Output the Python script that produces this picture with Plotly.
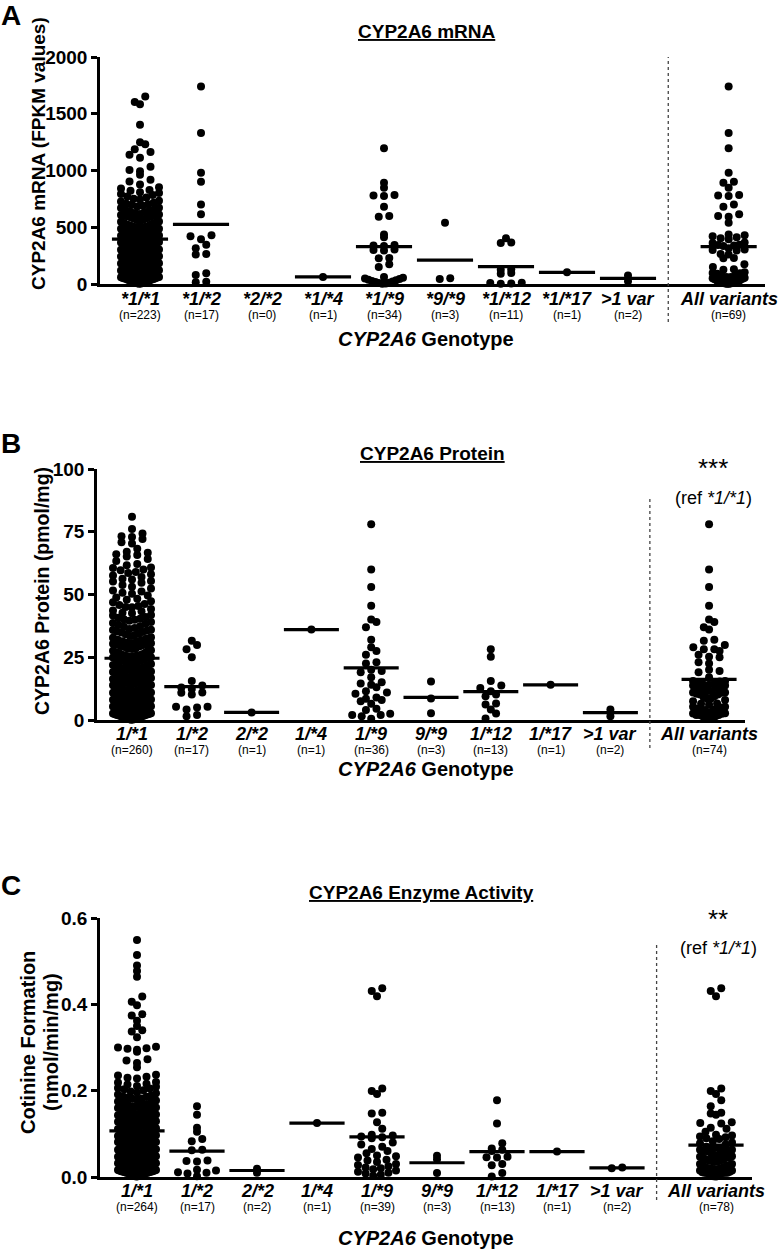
import plotly.graph_objects as go

W, H = 780, 1250
FONT = "Liberation Sans, Arial, sans-serif"

# ---------------- DATA ----------------
cats_A = ["*1/*1", "*1/*2", "*2/*2", "*1/*4", "*1/*9", "*9/*9", "*1/*12", "*1/*17", "&gt;1 var", "All variants"]
cats_BC = ["1/*1", "1/*2", "2/*2", "1/*4", "1/*9", "9/*9", "1/*12", "1/*17", "&gt;1 var", "All variants"]
n_A = [223, 17, 0, 1, 34, 3, 11, 1, 2, 69]
n_B = [260, 17, 1, 1, 36, 3, 13, 1, 2, 74]
n_C = [264, 17, 2, 1, 39, 3, 13, 1, 2, 78]

# Panel A: CYP2A6 mRNA (FPKM)
A11 = [1652, 1604, 1583, 1402, 1248, 1232, 1187, 1163, 1138, 1112, 1032, 1004, 993, 962, 918, 903, 877, 852, 841, 828, 822, 808, 801,
       792, 784, 771, 763, 752, 744, 733, 727, 716, 706, 702, 698,
       689, 683, 672, 669, 658, 653, 647, 637, 634, 626, 617, 613, 608, 604, 602, 600,
       596, 591, 588, 579, 577, 566, 563, 558, 551, 549, 541, 538, 533, 524, 522, 517, 509, 507, 503, 500,
       498, 494, 487, 486, 478, 476, 469, 466, 461, 457, 455, 448, 447, 440, 436, 433, 427, 425, 419, 414, 412, 406, 404, 401,
       399, 393, 392, 386, 383, 381, 376, 371, 370, 366, 361, 358, 356, 351, 347, 346, 340, 338, 333, 331, 326, 322, 321, 315, 312, 309, 304, 301,
       298, 296, 291, 288, 287, 282, 279, 277, 272, 269, 268, 263, 260, 257, 256, 251, 249, 244, 243, 238, 235, 233, 229, 225, 224, 219, 216, 214, 209, 207, 203, 201,
       199, 196, 191, 189, 187, 182, 181, 176, 173, 172, 167, 164, 163, 158, 155, 154, 149, 146, 145, 140, 137, 136, 131, 128, 126, 122, 119, 118, 113, 110, 108, 104, 102, 100,
       97, 96, 91, 88, 86, 83, 79, 78, 73, 71, 68, 66, 61, 59, 57, 53, 51, 48, 44, 43, 39, 36, 34, 30, 27, 25, 22, 18, 16, 12, 9, 7, 4, 2]
A12 = [1740, 1330, 980, 900, 700, 615, 430, 420, 395, 345, 315, 265, 260, 95, 80, 20, 15]
A22 = []
A14 = [62]
A19 = [1195, 893, 848, 784, 780, 775, 681, 600, 593, 437, 411, 344, 340, 335, 305, 300, 295, 230, 226, 173, 150,
       62, 55, 48, 44, 38, 33, 27, 22, 17, 12, 8, 5, 2]
A99 = [540, 50, 45]
A112 = [402, 365, 361, 130, 125, 97, 90, 10, 8, 5, 3]
A117 = [103]
Amulti = [75, 25]
means_A = [396, 525, None, 62, 330, 211, 153, 103, 50, 330]

# Panel B: CYP2A6 Protein (pmol/mg)
B11 = [81.0, 76.1,
       74.3, 73.2, 72.9, 72.1, 70.8, 70.3,
       68.2, 67.0, 66.6, 66.0, 65.7, 65.1,
       64.1, 63.3, 62.2, 61.7, 60.8, 60.6, 60.0,
       59.7, 59.0, 58.6, 58.1, 57.6, 57.0, 56.3, 56.0, 55.4, 55.2,
       54.7, 53.8, 53.1, 52.4, 51.6, 51.2, 50.7, 50.3,
       49.6, 48.8, 48.3, 47.9, 47.3, 46.9, 46.2, 45.8, 45.4, 45.0,
       44.9, 44.2, 43.6, 43.3, 42.7, 42.5, 41.8, 41.6, 41.0, 40.7, 40.3, 40.1,
       39.9, 39.5, 39.0, 38.6, 38.3, 37.9, 37.4, 37.2, 36.7, 36.3, 36.0, 35.9, 35.6, 35.3, 35.1,
       34.9, 34.4, 34.2, 33.7, 33.5, 33.0, 32.8, 32.4, 32.0, 31.9, 31.4, 31.3, 30.8, 30.7, 30.6, 30.4, 30.2, 30.1,
       29.9, 29.5, 29.4, 29.1, 28.6, 28.4, 28.3, 27.8, 27.6, 27.5, 27.0, 26.8, 26.7, 26.2, 26.0, 25.8, 25.8, 25.6, 25.3, 25.3, 25.1, 25.0,
       24.9, 24.7, 24.3, 24.2, 23.8, 23.7, 23.5, 23.1, 23.0, 22.6, 22.4, 22.3, 21.9, 21.7, 21.5, 21.3, 21.3, 20.9, 20.7, 20.6, 20.4, 20.3, 20.1, 20.0,
       19.9, 19.7, 19.3, 19.1, 19.1, 18.9, 18.5, 18.3, 18.2, 17.9, 17.7, 17.5, 17.3, 17.1, 16.9, 16.9, 16.7, 16.3, 16.1, 16.0, 15.9, 15.7, 15.5, 15.2, 15.2, 15.0,
       14.9, 14.8, 14.5, 14.3, 14.1, 13.9, 13.8, 13.6, 13.2, 13.1, 12.9, 12.7, 12.6, 12.3, 12.1, 11.9, 11.8, 11.5, 11.4, 11.2, 11.0, 10.9, 10.7, 10.5, 10.4, 10.3, 10.1, 10.0,
       9.9, 9.8, 9.6, 9.4, 9.2, 9.1, 8.9, 8.8, 8.5, 8.4, 8.2, 8.1, 7.9, 7.7, 7.6, 7.4, 7.2, 7.1, 6.9, 6.7, 6.6, 6.3, 6.2, 6.0, 5.9, 5.7, 5.5, 5.4, 5.2, 5.0,
       4.9, 4.8, 4.7, 4.5, 4.4, 4.2, 4.1, 4.0, 3.8, 3.7, 3.5, 3.4, 3.3, 3.1, 3.0, 2.9, 2.7, 2.6, 2.4, 2.3, 2.2, 2.0, 1.9, 1.8, 1.6, 1.5, 1.3, 1.2, 1.1, 0.9, 0.8, 0.6, 0.5, 0.4, 0.2, 0.1]
B12 = [31.6, 29.9, 28.2, 25.0, 15.5, 13.7, 12.9, 12.4, 11.0, 10.9, 10.2, 5.3, 5.3, 5.0, 4.2, 2.0, 1.5]
B22 = [3.0]
B14 = [36.1]
B19 = [78, 60, 53, 45.5, 40, 39, 37, 32, 29, 27.5, 26, 23, 22.5, 20, 19.5, 19, 17, 15, 14.5, 14,
       13, 11.5, 11, 10.5, 9, 8.5, 8, 7.5, 6.5, 4.5, 4, 2.5, 2, 2, 1.5, 0.5]
B99 = [15.3, 8.6, 2.7]
B112 = [28.2, 25.2, 15.5, 13.7, 12.7, 11.5, 10.2, 9.5, 6.6, 6.2, 4.2, 2.6, 0.6]
B117 = [14.0]
Bmulti = [4.2, 1.5]
means_B = [24.6, 13.3, 3.0, 36.0, 20.8, 9.0, 11.3, 14.0, 2.9, 16.2]

# Panel C: Cotinine formation (nmol/min/mg)
C11 = [0.549, 0.514, 0.490, 0.477, 0.464, 0.418, 0.406, 0.398, 0.377, 0.374, 0.362, 0.350, 0.340, 0.337, 0.324,
       0.302, 0.300, 0.298, 0.297, 0.295, 0.290, 0.273, 0.270, 0.264, 0.254, 0.237, 0.235, 0.232, 0.230, 0.228, 0.220,
       0.219, 0.216, 0.214, 0.211, 0.209, 0.206, 0.205, 0.203, 0.201,
       0.198, 0.196, 0.194, 0.191, 0.189, 0.187, 0.186, 0.184, 0.182, 0.181,
       0.179, 0.177, 0.175, 0.174, 0.171, 0.169, 0.168, 0.166, 0.164, 0.163, 0.161, 0.160,
       0.159, 0.157, 0.156, 0.154, 0.152, 0.151, 0.149, 0.148, 0.146, 0.145, 0.143, 0.142, 0.141, 0.140,
       0.139, 0.138, 0.136, 0.135, 0.134, 0.132, 0.131, 0.129, 0.128, 0.127, 0.125, 0.124, 0.123, 0.122, 0.121, 0.120,
       0.119, 0.118, 0.116, 0.116, 0.114, 0.113, 0.111, 0.110, 0.109, 0.108, 0.106, 0.105, 0.104, 0.103, 0.102, 0.101, 0.101, 0.100,
       0.099, 0.098, 0.097, 0.095, 0.095, 0.094, 0.092, 0.092, 0.091, 0.090, 0.089, 0.088, 0.087, 0.086, 0.085, 0.084, 0.084, 0.083, 0.082, 0.081, 0.081, 0.080,
       0.079, 0.079, 0.078, 0.077, 0.076, 0.075, 0.074, 0.074, 0.073, 0.072, 0.071, 0.070, 0.070, 0.069, 0.068, 0.067, 0.066, 0.066, 0.065, 0.064,
       0.063, 0.063, 0.062, 0.062, 0.061, 0.061, 0.060, 0.060,
       0.059, 0.059, 0.058, 0.058, 0.057, 0.056, 0.056, 0.055, 0.055, 0.054, 0.053, 0.053, 0.052, 0.052, 0.051, 0.050, 0.050,
       0.049, 0.049, 0.048, 0.047, 0.047, 0.046, 0.046, 0.045, 0.045, 0.044, 0.043, 0.043, 0.042, 0.042, 0.041, 0.041, 0.040,
       0.039, 0.039, 0.038, 0.038, 0.037, 0.037, 0.036, 0.036, 0.035, 0.035, 0.034, 0.033, 0.033, 0.032, 0.032, 0.031, 0.031, 0.030,
       0.030, 0.029, 0.029, 0.028, 0.028, 0.027, 0.027, 0.026, 0.025, 0.025, 0.024, 0.024, 0.023, 0.023, 0.022, 0.022, 0.021, 0.020,
       0.019, 0.019, 0.018, 0.018, 0.017, 0.017, 0.016, 0.016, 0.015, 0.015, 0.014, 0.014, 0.013, 0.013, 0.012, 0.012, 0.011,
       0.011, 0.010, 0.010, 0.009, 0.009, 0.008, 0.008, 0.007, 0.007, 0.006, 0.005, 0.005, 0.004, 0.003, 0.003, 0.002, 0.001]
C12 = [0.164, 0.144, 0.114, 0.105, 0.088, 0.083, 0.063, 0.062, 0.038, 0.037, 0.036, 0.017, 0.015, 0.011, 0.010, 0.008, 0.002]
C22 = [0.019, 0.010]
C14 = [0.125]
C19 = [0.437, 0.431, 0.419, 0.205, 0.199, 0.192, 0.149, 0.147, 0.127, 0.112,
       0.098, 0.096, 0.094, 0.092, 0.090, 0.080, 0.075, 0.070, 0.065, 0.060,
       0.055, 0.050, 0.048, 0.045, 0.040, 0.038, 0.035, 0.030, 0.028, 0.025,
       0.022, 0.020, 0.018, 0.015, 0.012, 0.010, 0.008, 0.005, 0.003]
C99 = [0.049, 0.041, 0.009]
C112 = [0.178, 0.124, 0.078, 0.066, 0.063, 0.060, 0.047, 0.046, 0.045, 0.030, 0.027, 0.009, 0.001]
C117 = [0.059]
Cmulti = [0.020, 0.022]
means_C = [0.107, 0.060, 0.015, 0.125, 0.093, 0.033, 0.059, 0.059, 0.021, 0.074]

groups_A = [A11, A12, A22, A14, A19, A99, A112, A117, Amulti, A12 + A22 + A14 + A19 + A99 + A112 + A117 + Amulti]
groups_B = [B11, B12, B22, B14, B19, B99, B112, B117, Bmulti, B12 + B22 + B14 + B19 + B99 + B112 + B117 + Bmulti]
groups_C = [C11, C12, C22, C14, C19, C99, C112, C117, Cmulti, C12 + C22 + C14 + C19 + C99 + C112 + C117 + Cmulti]

ALL_POS = 9.65
SEP_POS = 8.66


def swarm(vals, ppu_y, ppu_x, spacing=10.5, binh=7.0, maxhalf=19.0):
    bins = {}
    for i, v in enumerate(vals):
        b = int((v * ppu_y) // binh)
        bins.setdefault(b, []).append(i)
    offs = [0.0] * len(vals)
    for b, idx in bins.items():
        idx.sort(key=lambda i: vals[i])
        n = len(idx)
        s = spacing if n < 2 else min(spacing, 2 * maxhalf / (n - 1))
        slots = [(k - (n - 1) / 2) * s for k in range(n)]
        slots.sort(key=lambda x: (abs(x), x))
        for i, x in zip(idx, slots):
            offs[i] = x / ppu_x
    return offs


panels = [
    dict(key="A", cats=cats_A, ns=n_A, groups=groups_A, means=means_A, ymax=2000,
         tickvals=[0, 500, 1000, 1500, 2000], ticktext=["0", "500", "1000", "1500", "2000"],
         left=100, right=765, cat0=140, sp=61, top=57, bot=284,
         title="CYP2A6 mRNA", title_xy=(427, 32), letter_xy=(11, 15),
         sep=(57, 322), lab_y=299, n_y=315, geno_y=339, stars=None),
    dict(key="B", cats=cats_BC, ns=n_B, groups=groups_B, means=means_B, ymax=100,
         tickvals=[0, 25, 50, 75, 100], ticktext=["0", "25", "50", "75", "100"],
         left=97, right=745, cat0=132, sp=59.8, top=469, bot=720,
         title="CYP2A6 Protein", title_xy=(432, 453), letter_xy=(11, 443),
         sep=(496, 748), lab_y=734, n_y=750, geno_y=769, stars=("***", 713, 468, 498)),
    dict(key="C", cats=cats_BC, ns=n_C, groups=groups_C, means=means_C, ymax=0.6,
         tickvals=[0, 0.2, 0.4, 0.6], ticktext=["0.0", "0.2", "0.4", "0.6"],
         left=100, right=752, cat0=137, sp=60, top=918, bot=1177,
         title="CYP2A6 Enzyme Activity", title_xy=(421, 892), letter_xy=(11, 885),
         sep=(942, 1200), lab_y=1191, n_y=1207, geno_y=1238, stars=("**", 718, 919, 948)),
]

fig = go.Figure()
annotations = []
shapes = []
layout = {}


def py(y):
    return 1 - y / H


def pxf(x):
    return x / W


def ann(x, y, text, size, xref="paper", angle=0):
    return dict(x=x, y=y, xref=xref, yref="paper", text=text, showarrow=False, textangle=angle,
                xanchor="center", yanchor="middle",
                font=dict(family=FONT, size=size, color="black"))


for k, p in enumerate(panels):
    sfx = "" if k == 0 else str(k + 1)
    xname, yname = "x" + sfx, "y" + sfx
    ppu_y = (p["bot"] - p["top"]) / p["ymax"]
    ppu_x = p["sp"]
    xr = [(p["left"] - p["cat0"]) / p["sp"], (p["right"] - p["cat0"]) / p["sp"]]
    layout["xaxis" + sfx] = dict(domain=[pxf(p["left"]), pxf(p["right"])], range=xr, showline=True,
                                  linewidth=2.5, linecolor="black", showticklabels=False, ticks="",
                                  showgrid=False, zeroline=False, anchor=yname, fixedrange=True)
    layout["yaxis" + sfx] = dict(domain=[py(p["bot"]), py(p["top"])], range=[0, p["ymax"]], showline=True,
                                  linewidth=2.5, linecolor="black", ticks="outside", ticklen=6, tickwidth=2.5,
                                  tickcolor="black", tickvals=p["tickvals"],
                                  ticktext=["<b>%s</b>" % t for t in p["ticktext"]],
                                  tickfont=dict(family=FONT, size=19, color="black"),
                                  showgrid=False, zeroline=False, anchor=xname, fixedrange=True)
    for i, vals in enumerate(p["groups"]):
        pos = i if i < 9 else ALL_POS
        if vals:
            maxhalf = 16 if i == 9 else 19
            offs = swarm(vals, ppu_y, ppu_x, maxhalf=maxhalf)
            fig.add_trace(go.Scatter(x=[pos + o for o in offs], y=vals, mode="markers", xaxis=xname, yaxis=yname,
                                     marker=dict(color="black", size=8, line=dict(width=0)),
                                     cliponaxis=False, showlegend=False, hoverinfo="y"))
        m = p["means"][i]
        if m is not None:
            fig.add_trace(go.Scatter(x=[pos - 0.46, pos + 0.46], y=[m, m], mode="lines", xaxis=xname, yaxis=yname,
                                     line=dict(color="black", width=3.2), cliponaxis=False,
                                     showlegend=False, hoverinfo="skip"))
        annotations.append(ann(pos, py(p["lab_y"]), "<b><i>%s</i></b>" % p["cats"][i], 18, xref=xname))
        annotations.append(ann(pos, py(p["n_y"]), "(n=%d)" % p["ns"][i], 12, xref=xname))
    shapes.append(dict(type="line", xref=xname, yref="paper", x0=SEP_POS, x1=SEP_POS,
                       y0=py(p["sep"][1]), y1=py(p["sep"][0]),
                       line=dict(color="#444444", width=1.3, dash="dot")))
    annotations.append(ann(pxf(426), py(p["geno_y"]), "<b><i>CYP2A6</i> Genotype</b>", 20))
    annotations.append(ann(pxf(p["title_xy"][0]), py(p["title_xy"][1]), "<b><u>%s</u></b>" % p["title"], 19))
    annotations.append(ann(pxf(p["letter_xy"][0]), py(p["letter_xy"][1]), "<b>%s</b>" % p["key"], 28))
    if p["stars"]:
        s, sx, sy, ry = p["stars"]
        annotations.append(ann(pxf(sx), py(sy), s, 26))
        annotations.append(ann(pxf(sx), py(ry), "(ref <i>*1/*1</i>)", 18))

# y-axis titles
annotations.append(ann(pxf(39), py(154), "<b>CYP2A6 mRNA (FPKM values)</b>", 19, angle=-90))
annotations.append(ann(pxf(42), py(591), "<b>CYP2A6 Protein (pmol/mg)</b>", 19.5, angle=-90))
annotations.append(ann(pxf(28), py(1043), "<b>Cotinine Formation</b>", 20, angle=-90))
annotations.append(ann(pxf(51), py(1042), "<b>(nmol/min/mg)</b>", 20, angle=-90))

fig.update_layout(width=W, height=H, margin=dict(l=0, r=0, t=0, b=0, autoexpand=False),
                  paper_bgcolor="white", plot_bgcolor="white", showlegend=False,
                  annotations=annotations, shapes=shapes, font=dict(family=FONT, color="black"),
                  **layout)

fig.write_html("out.html", config={"displayModeBar": False},
               post_script="document.body.style.margin='0px';document.body.style.overflow='hidden';")
